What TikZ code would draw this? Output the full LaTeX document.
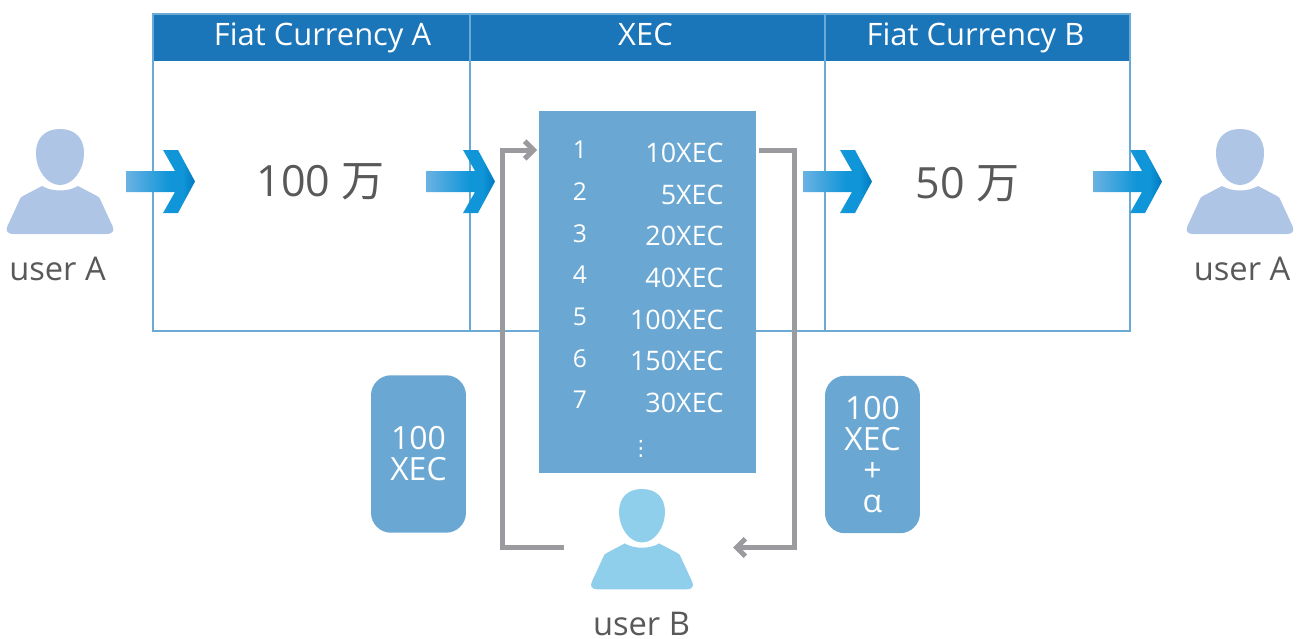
\documentclass[tikz,border=0pt]{standalone}
\usepackage{fontspec}
\setmainfont{Open Sans}
\newfontfamily\cjk{Noto Sans CJK JP}
\newfontfamily\symb{DejaVu Sans}
\usetikzlibrary{arrows.meta}
\definecolor{headblue}{HTML}{1B75B9}
\definecolor{framblue}{HTML}{6AAAD4}
\definecolor{panelblue}{HTML}{6AA8D3}
\definecolor{usera}{HTML}{AEC5E5}
\definecolor{userb}{HTML}{8FCFEB}
\definecolor{flowgray}{HTML}{9A9A9F}
\definecolor{textgray}{HTML}{595959}
\definecolor{arrowa}{HTML}{6AB2E3}
\definecolor{arrowb}{HTML}{1096D8}
\definecolor{arrowc}{HTML}{0078C0}
\pgfdeclarehorizontalshading{arrowfill}{100bp}{color(0bp)=(arrowa); color(25bp)=(arrowa); color(56bp)=(arrowb); color(66bp)=(arrowb); color(75bp)=(arrowc); color(100bp)=(arrowc)}
\tikzset{
  headcell/.style={anchor=base,text=white,inner sep=0pt,font=\fontsize{17.6}{20}\selectfont},
  userlabel/.style={anchor=base,text depth=0pt,inner sep=0pt,text=textgray,font=\fontsize{18.6}{22}\selectfont},
  amount/.style={text=textgray,font=\fontsize{24.5}{28}\selectfont},
  rowlabel/.style={text=white,font=\fontsize{14}{17}\selectfont},
  rowvalue/.style={anchor=east,inner sep=0pt,text=white,font=\fontsize{15.3}{17}\selectfont},
  paybox/.style={fill=panelblue,text=white,rounded corners=0.4cm,minimum width=1.9cm,minimum height=3.15cm,align=center,inner sep=0pt,font=\fontsize{18.2}{17.7}\selectfont},
  flow/.style={draw=flowgray,line width=0.1cm},
  frameline/.style={draw=framblue,line width=0.05cm},
}
\begin{document}
\begin{tikzpicture}[x=0.02cm,y=-0.02cm,>={Straight Barb[length=5pt,width=10pt]}]
\useasboundingbox (0,0) rectangle (1306,639);

% table head
\node[fill=headblue,minimum width=19.54cm,minimum height=0.94cm,inner sep=0pt] (headband) at (641.5,37.5) {};
\node[headcell] (fiatA) at (322.5,46) {Fiat Currency A};
\node[headcell] (xec) at (645.5,46) {XEC};
\node[headcell] (fiatB) at (975.5,46) {Fiat Currency B};
% table frame
\draw[frameline] (153,14) rectangle (1130,331);
\draw[frameline] (470,14) -- (470,331);
\draw[frameline] (825,14) -- (825,331);

% list of XEC
\node[fill=panelblue,minimum width=4.34cm,minimum height=7.24cm,inner sep=0pt] (xeclist) at (647.5,292) {};
\foreach \n/\v [count=\i from 0] in {1/10,2/5,3/20,4/40,5/100,6/150,7/30}
{
    \node[rowlabel] (num\n) at (580,150+41.7*\i) {\n};
    \node[rowvalue] (val\n) at (724,153+41.6*\i) {\v XEC};
}
\node[text=white,font=\fontsize{12}{12}\selectfont] (more) at (641,449) {\symb ⋮};

% users
\foreach \x/\y/\s/\c in {60/129/1/usera,1240/129/1/usera,642/489/0.955/userb}
{
\begin{scope}[shift={(\x,\y)},scale=\s]
    \fill[\c] (-24,24) .. controls (-24,8) and (-14,0) .. (0,0) .. controls (14,0) and (24,8) .. (24,24) .. controls (24,41) and (13,56) .. (0,56) .. controls (-13,56) and (-24,41) .. (-24,24) -- cycle;
    \fill[\c] (-18,57) .. controls (-8,63) and (8,63) .. (18,57) -- (37,67) .. controls (39,68) and (39.5,69) .. (40,70) -- (52.5,97) .. controls (55,102) and (52,105) .. (47,105) -- (-47,105) .. controls (-52,105) and (-55,102) .. (-52.5,97) -- (-40,70) .. controls (-39.5,69) and (-39,68) .. (-37,67) -- cycle;
\end{scope}
}
\node[userlabel] (userAleft) at (57.5,280) {user A};
\node[userlabel] (userAright) at (1242,280) {user A};
\node[userlabel] (userB) at (641.5,635.5) {user B};

% big arrows
\foreach \x in {0,300,677,967}
{
\begin{scope}[shift={(\x,0)}]
    \shade[shading=arrowfill] (126,171) -- (175,171) -- (163,150) -- (178,150) -- (195,181.5) -- (178,213) -- (163,213) -- (175,192) -- (126,192) -- cycle;
\end{scope}
}

% amounts
\node[amount] (amountA) at (320.5,182) {100 {\cjk 万}};
\node[amount] (amountB) at (967.5,184) {50 {\cjk 万}};

% XEC paid and returned
\node[paybox] (payin) at (418.5,454) {100\\XEC};
\node[paybox] (payout) at (872.5,454.5) {100\\XEC\\+\\α};

% flows
\coordinate (bout) at (564,547.5);
\coordinate (bin) at (733,547.5);
\coordinate (listin) at (537,150);
\coordinate (listout) at (759,150);
\draw[flow,->] (bout) -- ++(-61.5,0) |- (listin);
\draw[flow,->] (listout) -- ++(35.5,0) |- (bin);

\end{tikzpicture}
\end{document}
